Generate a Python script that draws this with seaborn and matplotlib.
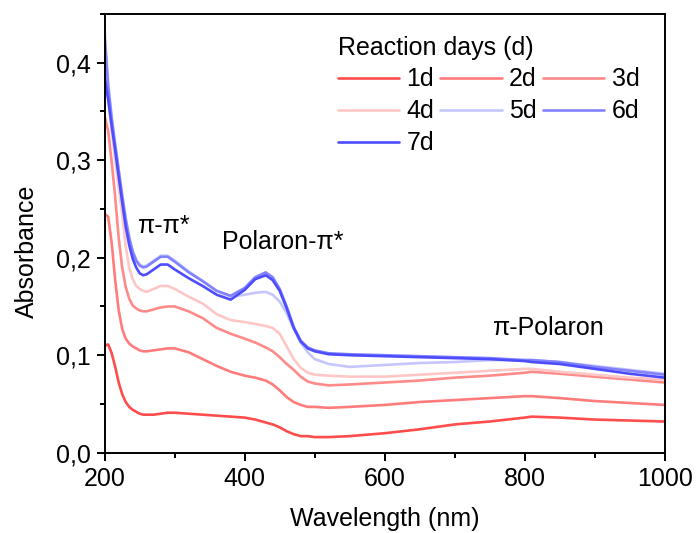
import numpy as np
import pandas as pd
import matplotlib
matplotlib.use("Agg")
import matplotlib.pyplot as plt
from matplotlib.ticker import MultipleLocator, FuncFormatter
import seaborn as sns

# UV-Vis spectra of the polymer after 1-7 reaction days
wavelength = [200, 205, 210, 215, 220, 225, 230, 235, 240, 245, 250, 255, 260,
              270, 280, 290, 300, 320, 340, 360, 380, 400, 415, 430, 440, 450,
              460, 470, 480, 490, 500, 520, 550, 600, 650, 700, 750, 800, 810,
              850, 900, 950, 1000]

abs_1d = [0.110, 0.111, 0.102, 0.088, 0.072, 0.060, 0.052, 0.047, 0.044, 0.042,
          0.040, 0.039, 0.039, 0.039, 0.040, 0.041, 0.041, 0.040, 0.039, 0.038,
          0.037, 0.036, 0.034, 0.031, 0.029, 0.026, 0.022, 0.019, 0.017, 0.017,
          0.016, 0.016, 0.017, 0.020, 0.024, 0.029, 0.032, 0.036, 0.037, 0.036,
          0.034, 0.033, 0.032]
abs_2d = [0.245, 0.242, 0.215, 0.177, 0.146, 0.127, 0.117, 0.112, 0.109, 0.107,
          0.105, 0.104, 0.104, 0.105, 0.106, 0.107, 0.107, 0.103, 0.096, 0.089,
          0.083, 0.079, 0.077, 0.074, 0.070, 0.064, 0.057, 0.052, 0.049, 0.047,
          0.047, 0.046, 0.047, 0.049, 0.052, 0.054, 0.056, 0.058, 0.058, 0.056,
          0.053, 0.051, 0.049]
abs_3d = [0.345, 0.330, 0.298, 0.262, 0.220, 0.190, 0.170, 0.158, 0.151, 0.148,
          0.146, 0.145, 0.145, 0.147, 0.149, 0.150, 0.150, 0.145, 0.138, 0.128,
          0.122, 0.117, 0.113, 0.108, 0.104, 0.098, 0.091, 0.085, 0.078, 0.073,
          0.071, 0.069, 0.070, 0.072, 0.074, 0.077, 0.079, 0.082, 0.083, 0.081,
          0.078, 0.075, 0.072]
abs_4d = [0.397, 0.365, 0.330, 0.300, 0.272, 0.245, 0.212, 0.190, 0.178, 0.171,
          0.168, 0.166, 0.165, 0.168, 0.171, 0.171, 0.168, 0.160, 0.153, 0.142,
          0.136, 0.134, 0.132, 0.130, 0.128, 0.122, 0.109, 0.096, 0.087, 0.082,
          0.080, 0.079, 0.078, 0.078, 0.080, 0.082, 0.084, 0.086, 0.086, 0.083,
          0.080, 0.077, 0.075]
abs_5d = [0.432, 0.380, 0.345, 0.317, 0.291, 0.265, 0.241, 0.222, 0.207, 0.198,
          0.193, 0.191, 0.192, 0.197, 0.202, 0.202, 0.197, 0.186, 0.176, 0.166,
          0.160, 0.162, 0.164, 0.165, 0.162, 0.155, 0.143, 0.127, 0.113, 0.103,
          0.096, 0.091, 0.088, 0.090, 0.092, 0.093, 0.095, 0.095, 0.095, 0.093,
          0.089, 0.085, 0.081]
abs_6d = [0.425, 0.375, 0.342, 0.315, 0.289, 0.263, 0.239, 0.220, 0.206, 0.197,
          0.192, 0.190, 0.191, 0.196, 0.201, 0.201, 0.196, 0.185, 0.176, 0.166,
          0.161, 0.169, 0.180, 0.185, 0.180, 0.168, 0.150, 0.129, 0.115, 0.108,
          0.105, 0.102, 0.101, 0.100, 0.099, 0.098, 0.097, 0.095, 0.095, 0.093,
          0.088, 0.084, 0.080]
abs_7d = [0.385, 0.362, 0.335, 0.310, 0.283, 0.257, 0.232, 0.213, 0.199, 0.190,
          0.184, 0.182, 0.183, 0.188, 0.193, 0.193, 0.188, 0.179, 0.171, 0.162,
          0.157, 0.167, 0.178, 0.182, 0.177, 0.166, 0.148, 0.128, 0.114, 0.107,
          0.104, 0.101, 0.100, 0.099, 0.098, 0.097, 0.096, 0.094, 0.093, 0.091,
          0.086, 0.081, 0.077]

days = ["1d", "2d", "3d", "4d", "5d", "6d", "7d"]
series = [abs_1d, abs_2d, abs_3d, abs_4d, abs_5d, abs_6d, abs_7d]
colors = ["#ff4d4d", "#ff7c7c", "#ff8a8a", "#ffc6c6", "#c6c6ff", "#8282ff", "#4d4dff"]

df = pd.concat(
    [pd.DataFrame({"Wavelength": wavelength, "Absorbance": a, "day": d})
     for d, a in zip(days, series)],
    ignore_index=True,
)

sns.set_style("ticks")
plt.rcParams["font.family"] = ["Liberation Sans", "DejaVu Sans"]
plt.rcParams["axes.linewidth"] = 1.4
plt.rcParams["text.color"] = "black"
plt.rcParams["axes.labelcolor"] = "black"
plt.rcParams["xtick.color"] = "black"
plt.rcParams["ytick.color"] = "black"

fig = plt.figure(figsize=(6.97, 5.33), dpi=100)
W, H = 697, 533
ax = fig.add_axes([104.7 / W, (H - 452.7) / H, 560 / W, 438.7 / H])

sns.lineplot(data=df, x="Wavelength", y="Absorbance", hue="day",
             hue_order=days, palette=dict(zip(days, colors)),
             estimator=None, linewidth=1.9, ax=ax)

ax.set_xlim(200, 1000)
ax.set_ylim(0, 0.45)
ax.xaxis.set_major_locator(MultipleLocator(200))
ax.xaxis.set_minor_locator(MultipleLocator(100))
ax.yaxis.set_major_locator(MultipleLocator(0.1))
ax.yaxis.set_minor_locator(MultipleLocator(0.05))
ax.yaxis.set_major_formatter(FuncFormatter(lambda v, _: f"{v:.1f}".replace(".", ",")))
ax.tick_params(which="major", direction="out", length=6, width=1.4,
               labelsize=18, pad=4, colors="black")
ax.tick_params(which="minor", direction="out", length=3.5, width=1.4, colors="black")
for side in ["top", "right", "left", "bottom"]:
    ax.spines[side].set_visible(True)
    ax.spines[side].set_color("black")

ax.set_xlabel("Wavelength (nm)", fontsize=18, labelpad=12)
ax.set_ylabel("Absorbance", fontsize=18)
ax.yaxis.set_label_coords(-0.117, 0.46)

# band assignments
ax.text(246, 0.233, "π-π*", fontsize=18, va="center", ha="left")
ax.text(367, 0.216, "Polaron-π*", fontsize=18, va="center", ha="left")
ax.text(753, 0.1276, "π-Polaron", fontsize=18, va="center", ha="left")

handles, labels = ax.get_legend_handles_labels()
lookup = dict(zip(labels, handles))
order = ["1d", "4d", "7d", "2d", "5d", "3d", "6d"]
leg = ax.legend([lookup[k] for k in order], order, title="Reaction days (d)",
                ncol=3, frameon=False, fontsize=18, title_fontsize=18,
                loc="upper left", bbox_to_anchor=(325 / W, 1 - 23 / H),
                bbox_transform=fig.transFigure, borderpad=0, handlelength=2.45,
                handletextpad=0.3, columnspacing=0.25, labelspacing=0.32,
                alignment="left")
leg.get_title().set_color("black")

fig.savefig("out.png", dpi=100)
